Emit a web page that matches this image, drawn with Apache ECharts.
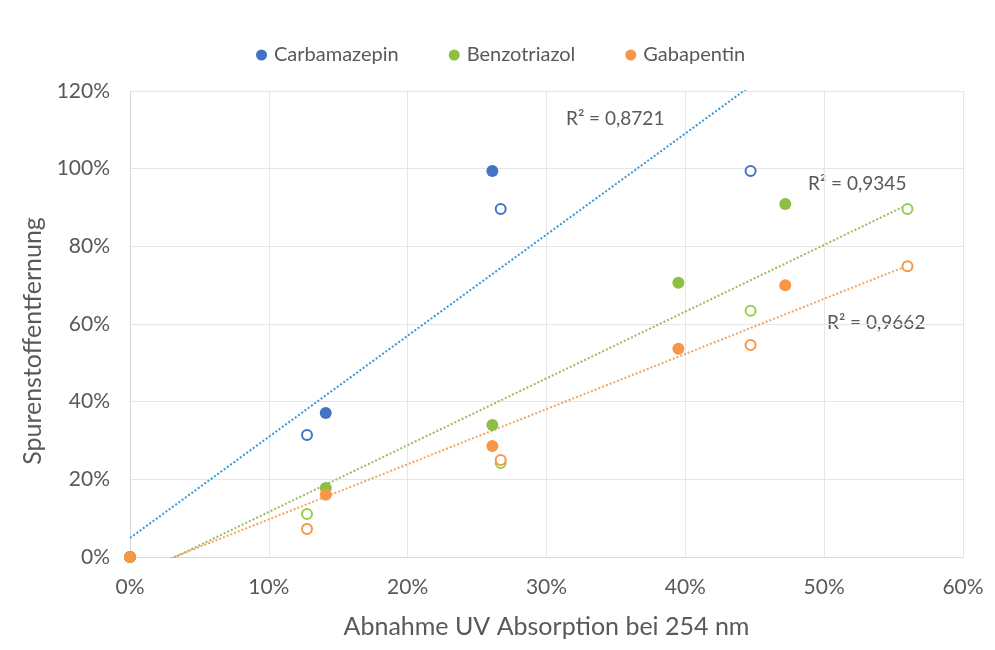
<!DOCTYPE html>
<html>
<head>
<meta charset="utf-8">
<script src="https://cdn.jsdelivr.net/npm/echarts@6/dist/echarts.min.js"></script>
<style>html,body{margin:0;padding:0;background:#fff}#c{width:995px;height:650px}</style>
</head>
<body>
<div id="c"></div>
<script>
// Data (x, y in percent)
const seriesNames = ['Carbamazepin', 'Benzotriazol', 'Gabapentin'];
const carbaFilled = [[0, 0], [14.1, 37.1], [26.1, 99.4]];
const carbaHollow = [[12.75, 31.4], [26.7, 89.6], [44.7, 99.4]];
const benzoFilled = [[0, 0], [14.1, 17.8], [26.1, 34.0], [39.5, 70.6], [47.2, 90.9]];
const benzoHollow = [[12.75, 11.1], [26.7, 24.2], [44.7, 63.4], [56.0, 89.6]];
const gabaFilled = [[0, 0], [14.1, 16.0], [26.1, 28.6], [39.5, 53.6], [47.2, 70.0]];
const gabaHollow = [[12.75, 7.2], [26.7, 25.0], [44.7, 54.6], [56.0, 74.9]];
const carbaTrend = [[0, 4.9], [44.7, 121.3]];
const benzoTrend = [[0, -5.6], [56.0, 90.7]];
const gabaTrend = [[0, -4.5], [56.0, 75.0]];
const r2Labels = ['R² = 0,8721', 'R² = 0,9345', 'R² = 0,9662'];
const xTicks = {min: 0, max: 60, interval: 10};
const yTicks = {min: 0, max: 120, interval: 20};

const FONT = 'Lato, "Open Sans", sans-serif';
const TXT = '#595959';
const colBlue = '#4472C4', colGreen = '#8DBF45', colOrange = '#F79646';
const colGreenH = '#92D050';
const trendBlue = '#3498DB', trendGreen = '#9BBB59', trendOrange = '#F4A460';

function filled(name, data, color) {
  return {name, type: 'scatter', data, symbol: 'circle', symbolSize: 12,
    itemStyle: {color, opacity: 1}, z: 4};
}
function hollow(name, data, color) {
  return {name, type: 'scatter', data, symbol: 'circle', symbolSize: 10,
    itemStyle: {color: '#fff', borderColor: color, borderWidth: 2, opacity: 1}, z: 4};
}
function trend(name, data, color) {
  return {name, type: 'line', data, symbol: 'none', clip: true, z: 3,
    lineStyle: {color, width: 2, type: [2, 2]}, silent: true};
}

const chart = echarts.init(document.getElementById('c'), null, {renderer: 'canvas'});
chart.setOption({
  backgroundColor: '#fff',
  animation: false,
  textStyle: {fontFamily: FONT},
  legend: {
    data: seriesNames, top: 40, left: 251, itemGap: 50,
    icon: 'circle', itemWidth: 11, itemHeight: 11,
    textStyle: {fontSize: 20, color: TXT, fontFamily: FONT, padding: [0, 0, 0, 2]}
  },
  grid: {left: 130, right: 32, top: 91, bottom: 93},
  xAxis: {
    type: 'value', min: xTicks.min, max: xTicks.max, interval: xTicks.interval,
    name: 'Abnahme UV Absorption bei 254 nm', nameLocation: 'middle', nameGap: 57,
    nameTextStyle: {fontSize: 25, color: TXT, fontFamily: FONT},
    axisLine: {show: true, lineStyle: {color: '#D9D9D9', width: 1}},
    axisTick: {show: false},
    axisLabel: {formatter: '{value}%', fontSize: 21, color: TXT, margin: 20, fontFamily: FONT},
    splitLine: {show: true, lineStyle: {color: '#E6E6E6', width: 1}}
  },
  yAxis: {
    type: 'value', min: yTicks.min, max: yTicks.max, interval: yTicks.interval,
    name: 'Spurenstoffentfernung', nameLocation: 'middle', nameGap: 67,
    nameTextStyle: {fontSize: 25, color: TXT, fontFamily: FONT, padding: [0, 34, 0, 0]},
    axisLine: {show: true, lineStyle: {color: '#D9D9D9', width: 1}},
    axisTick: {show: false},
    axisLabel: {formatter: '{value}%', fontSize: 21, color: TXT, margin: 20, fontFamily: FONT},
    splitLine: {show: true, lineStyle: {color: '#E6E6E6', width: 1}}
  },
  series: [
    trend('tC', carbaTrend, trendBlue),
    trend('tB', benzoTrend, trendGreen),
    trend('tG', gabaTrend, trendOrange),
    hollow('hC', carbaHollow, colBlue),
    hollow('hB', benzoHollow, colGreenH),
    hollow('hG', gabaHollow, colOrange),
    filled(seriesNames[0], carbaFilled, colBlue),
    filled(seriesNames[1], benzoFilled, colGreen),
    filled(seriesNames[2], gabaFilled, colOrange)
  ],
  graphic: [
    {type: 'text', left: 566, top: 109, style: {text: r2Labels[0], fontSize: 19, fill: TXT, fontFamily: FONT}},
    {type: 'text', left: 808, top: 174, style: {text: r2Labels[1], fontSize: 19, fill: TXT, fontFamily: FONT}},
    {type: 'text', left: 827, top: 313, style: {text: r2Labels[2], fontSize: 19, fill: TXT, fontFamily: FONT}}
  ]
});
</script>
</body>
</html>
